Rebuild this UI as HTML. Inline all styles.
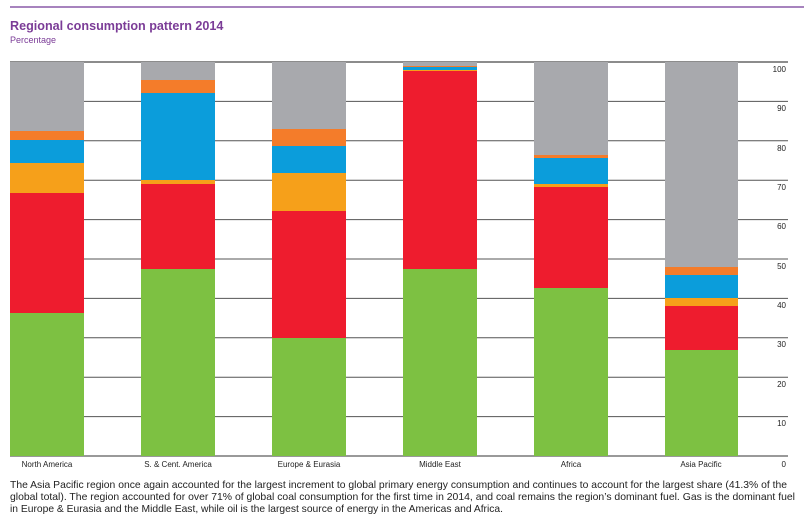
<!DOCTYPE html>
<html><head><meta charset="utf-8"><style>
html,body{margin:0;padding:0;background:#fff;}
svg{display:block;font-family:"Liberation Sans",Arial,sans-serif;}
</style></head><body>
<svg width="804" height="524" viewBox="0 0 804 524" xmlns="http://www.w3.org/2000/svg">
<line x1="10" y1="7" x2="804" y2="7" stroke="#8a5aa8" stroke-width="1.5"/>
<text x="10" y="30" font-size="12.6" font-weight="bold" fill="#7b3c97">Regional consumption pattern 2014</text>
<text x="10" y="43" font-size="9" fill="#7b3c97">Percentage</text>
<g stroke="#555" stroke-width="1">
<line x1="10" y1="62" x2="788" y2="62" stroke="#666" stroke-width="1.5"/>
<line x1="10" y1="101.4" x2="788" y2="101.4"/>
<line x1="10" y1="140.8" x2="788" y2="140.8"/>
<line x1="10" y1="180.2" x2="788" y2="180.2"/>
<line x1="10" y1="219.6" x2="788" y2="219.6"/>
<line x1="10" y1="259" x2="788" y2="259"/>
<line x1="10" y1="298.4" x2="788" y2="298.4"/>
<line x1="10" y1="337.8" x2="788" y2="337.8"/>
<line x1="10" y1="377.2" x2="788" y2="377.2"/>
<line x1="10" y1="416.6" x2="788" y2="416.6"/>
<line x1="10" y1="456" x2="788" y2="456" stroke="#333"/>
</g>
<g font-size="8" fill="#222" text-anchor="end">
<text x="786" y="72">100</text><text x="786" y="111">90</text><text x="786" y="151">80</text>
<text x="786" y="190">70</text><text x="786" y="229">60</text><text x="786" y="269">50</text>
<text x="786" y="308">40</text><text x="786" y="347">30</text><text x="786" y="387">20</text>
<text x="786" y="426">10</text><text x="786" y="467">0</text>
</g>
<g>
<rect x="10" y="62" width="74" height="69" fill="#a8a9ad"/>
<rect x="10" y="131" width="74" height="9" fill="#f47c2a"/>
<rect x="10" y="140" width="74" height="23" fill="#0b9ddb"/>
<rect x="10" y="163" width="74" height="30" fill="#f6a01a"/>
<rect x="10" y="193" width="74" height="120" fill="#ee1c2e"/>
<rect x="10" y="313" width="74" height="143" fill="#7dc142"/>
</g>
<g>
<rect x="141" y="62" width="74" height="18" fill="#a8a9ad"/>
<rect x="141" y="80" width="74" height="13" fill="#f47c2a"/>
<rect x="141" y="93" width="74" height="87" fill="#0b9ddb"/>
<rect x="141" y="180" width="74" height="4" fill="#f6a01a"/>
<rect x="141" y="184" width="74" height="85" fill="#ee1c2e"/>
<rect x="141" y="269" width="74" height="187" fill="#7dc142"/>
</g>
<g>
<rect x="272" y="62" width="74" height="67" fill="#a8a9ad"/>
<rect x="272" y="129" width="74" height="17" fill="#f47c2a"/>
<rect x="272" y="146" width="74" height="27" fill="#0b9ddb"/>
<rect x="272" y="173" width="74" height="38" fill="#f6a01a"/>
<rect x="272" y="211" width="74" height="127" fill="#ee1c2e"/>
<rect x="272" y="338" width="74" height="118" fill="#7dc142"/>
</g>
<g>
<rect x="403" y="62" width="74" height="4" fill="#a8a9ad"/>
<rect x="403" y="66" width="74" height="1" fill="#f47c2a"/>
<rect x="403" y="67" width="74" height="3" fill="#0b9ddb"/>
<rect x="403" y="70" width="74" height="1" fill="#f6a01a"/>
<rect x="403" y="71" width="74" height="198" fill="#ee1c2e"/>
<rect x="403" y="269" width="74" height="187" fill="#7dc142"/>
</g>
<g>
<rect x="534" y="62" width="74" height="93" fill="#a8a9ad"/>
<rect x="534" y="155" width="74" height="3" fill="#f47c2a"/>
<rect x="534" y="158" width="74" height="26" fill="#0b9ddb"/>
<rect x="534" y="184" width="74" height="3" fill="#f6a01a"/>
<rect x="534" y="187" width="74" height="101" fill="#ee1c2e"/>
<rect x="534" y="288" width="74" height="168" fill="#7dc142"/>
</g>
<g>
<rect x="665" y="62" width="73" height="205" fill="#a8a9ad"/>
<rect x="665" y="267" width="73" height="8" fill="#f47c2a"/>
<rect x="665" y="275" width="73" height="23" fill="#0b9ddb"/>
<rect x="665" y="298" width="73" height="8" fill="#f6a01a"/>
<rect x="665" y="306" width="73" height="44" fill="#ee1c2e"/>
<rect x="665" y="350" width="73" height="106" fill="#7dc142"/>
</g>
<g font-size="8" fill="#222" text-anchor="middle">
<text x="47" y="467">North America</text>
<text x="178" y="467">S. &amp; Cent. America</text>
<text x="309" y="467">Europe &amp; Eurasia</text>
<text x="440" y="467">Middle East</text>
<text x="571" y="467">Africa</text>
<text x="701" y="467">Asia Pacific</text>
</g>
<g font-size="10.3" fill="#222">
<text x="10" y="488" textLength="777" lengthAdjust="spacingAndGlyphs">The Asia Pacific region once again accounted for the largest increment to global primary energy consumption and continues to account for the largest share (41.3% of the</text>
<text x="10" y="500" textLength="785" lengthAdjust="spacingAndGlyphs">global total). The region accounted for over 71% of global coal consumption for the first time in 2014, and coal remains the region’s dominant fuel. Gas is the dominant fuel</text>
<text x="10" y="512" textLength="493" lengthAdjust="spacingAndGlyphs">in Europe &amp; Eurasia and the Middle East, while oil is the largest source of energy in the Americas and Africa.</text>
</g>
</svg>
</body></html>
